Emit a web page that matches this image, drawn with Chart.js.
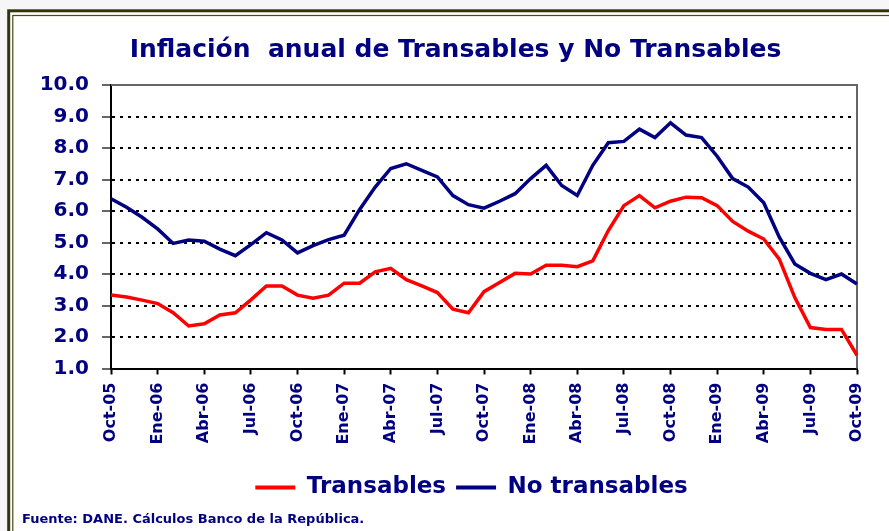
<!DOCTYPE html>
<html>
<head>
<meta charset="utf-8">
<script src="https://cdn.jsdelivr.net/npm/chart.js@4/dist/chart.umd.min.js"></script>
<style>
  html, body { margin: 0; padding: 0; background: #f6f6f6; }
  canvas { display: block; }
</style>
</head>
<body>
<canvas id="chart" width="889" height="531"></canvas>
<script>
// ---- data (monthly, Oct-05 .. Oct-09) ----
const months = [
  'Oct-05','Nov-05','Dic-05','Ene-06','Feb-06','Mar-06','Abr-06','May-06','Jun-06','Jul-06','Ago-06','Sep-06',
  'Oct-06','Nov-06','Dic-06','Ene-07','Feb-07','Mar-07','Abr-07','May-07','Jun-07','Jul-07','Ago-07','Sep-07',
  'Oct-07','Nov-07','Dic-07','Ene-08','Feb-08','Mar-08','Abr-08','May-08','Jun-08','Jul-08','Ago-08','Sep-08',
  'Oct-08','Nov-08','Dic-08','Ene-09','Feb-09','Mar-09','Abr-09','May-09','Jun-09','Jul-09','Ago-09','Sep-09',
  'Oct-09'
];
const transables = [
  3.33, 3.27, 3.17, 3.06, 2.77, 2.35, 2.42, 2.70, 2.77, 3.18, 3.62, 3.62,
  3.33, 3.23, 3.33, 3.71, 3.71, 4.07, 4.18, 3.82, 3.62, 3.41, 2.88, 2.77,
  3.44, 3.73, 4.02, 4.00, 4.28, 4.28, 4.23, 4.42, 5.38, 6.17, 6.49, 6.10,
  6.31, 6.44, 6.42, 6.17, 5.67, 5.36, 5.11, 4.47, 3.25, 2.30, 2.24, 2.24,
  1.42
];
const noTransables = [
  6.39, 6.12, 5.80, 5.43, 4.97, 5.08, 5.04, 4.79, 4.58, 4.93, 5.31, 5.08,
  4.67, 4.90, 5.09, 5.23, 6.05, 6.76, 7.35, 7.50, 7.29, 7.08, 6.49, 6.20,
  6.09, 6.31, 6.55, 7.03, 7.45, 6.81, 6.49, 7.45, 8.17, 8.21, 8.60, 8.33,
  8.80, 8.41, 8.33, 7.74, 7.03, 6.76, 6.26, 5.17, 4.32, 4.02, 3.82, 4.00,
  3.68
];
const yMin = 1, yMax = 10, yStep = 1;
const labelEvery = 3;

const NAVY = '#000080';
const FONT = "'DejaVu Sans', Verdana, sans-serif";

// frame, plot border and source note
const decor = {
  id: 'decor',
  beforeDraw(chart) {
    const ctx = chart.ctx;
    ctx.save();
    ctx.fillStyle = '#f6f6f6';
    ctx.fillRect(0, 0, chart.width, chart.height);
    ctx.fillStyle = '#ffffff';
    ctx.fillRect(7, 9, chart.width, chart.height);
    ctx.strokeStyle = '#34340a';
    ctx.lineWidth = 3;
    ctx.strokeRect(8.7, 10.8, chart.width + 20, chart.height + 20);
    ctx.strokeStyle = '#4a4a1a';
    ctx.lineWidth = 1.2;
    ctx.strokeRect(12.8, 15.5, chart.width + 20, chart.height + 20);
    ctx.restore();
  },
  beforeDatasetsDraw(chart) {
    const {ctx, chartArea: a} = chart;
    ctx.save();
    ctx.strokeStyle = '#666666';
    ctx.lineWidth = 2;
    ctx.beginPath();
    ctx.moveTo(a.left, a.top);
    ctx.lineTo(a.right, a.top);
    ctx.lineTo(a.right, a.bottom);
    ctx.stroke();
    ctx.restore();
  },
  afterLayout(chart) {
    // title and legend sit a little right of the canvas centre in the original
    chart.titleBlock.left += 8;
    chart.titleBlock.right += 8;
    chart.legend.left += 24;
    chart.legend.right += 24;
  },
  afterDraw(chart) {
    const ctx = chart.ctx;
    ctx.save();
    ctx.fillStyle = NAVY;
    ctx.font = 'bold 13px ' + FONT;
    ctx.textBaseline = 'alphabetic';
    ctx.fillText('Fuente: DANE. Cálculos Banco de la República.', 22, 523);
    ctx.restore();
  }
};

new Chart(document.getElementById('chart'), {
  type: 'line',
  data: {
    labels: months,
    datasets: [
      { label: 'Transables', data: transables, borderColor: '#ff0000', backgroundColor: '#ff0000',
        borderWidth: 3.5, pointRadius: 0, tension: 0 },
      { label: 'No transables', data: noTransables, borderColor: NAVY, backgroundColor: NAVY,
        borderWidth: 3.5, pointRadius: 0, tension: 0 }
    ]
  },
  options: {
    responsive: false, animation: false, devicePixelRatio: 1,
    layout: { padding: { left: 38, right: 32, top: 0, bottom: 22 } },
    plugins: {
      title: { display: true, text: 'Inflación  anual de Transables y No Transables', color: NAVY,
        font: { family: FONT, size: 25, weight: 'bold' }, padding: { top: 35, bottom: 20 } },
      legend: {
        position: 'bottom',
        labels: {
          color: NAVY, boxWidth: 40, boxHeight: 4, padding: 10,
          font: { family: FONT, size: 23, weight: 'bold' },
          generateLabels(chart) {
            return Chart.defaults.plugins.legend.labels.generateLabels(chart)
              .map(l => Object.assign(l, { lineWidth: 0 }));
          }
        }
      },
      tooltip: { enabled: false }
    },
    scales: {
      x: {
        afterFit: s => { s.height = 97.5; },
        grid: { drawOnChartArea: false, drawTicks: true, tickLength: 6, tickColor: '#000', tickWidth: 2 },
        border: { color: '#000', width: 2 },
        ticks: {
          autoSkip: false, maxRotation: 90, minRotation: 90, padding: 8, color: NAVY,
          font: { family: FONT, size: 16, weight: 'bold' },
          callback: (v, i) => (i % labelEvery === 0 ? months[i] : null)
        }
      },
      y: {
        min: yMin, max: yMax,
        afterFit: s => { s.width = 73; },
        grid: {
          lineWidth: 2, tickLength: 9, tickColor: '#666666', tickWidth: 2,
          color: c => (c.tick && (c.tick.value === yMin || c.tick.value === yMax)) ? 'rgba(0,0,0,0)' : '#000'
        },
        border: { color: '#000', width: 2, dash: [3, 5] },
        ticks: {
          stepSize: yStep, padding: 13, color: NAVY,
          font: { family: FONT, size: 20, weight: 'bold' },
          callback: v => v.toFixed(1)
        }
      }
    }
  },
  plugins: [decor]
});
</script>
</body>
</html>
